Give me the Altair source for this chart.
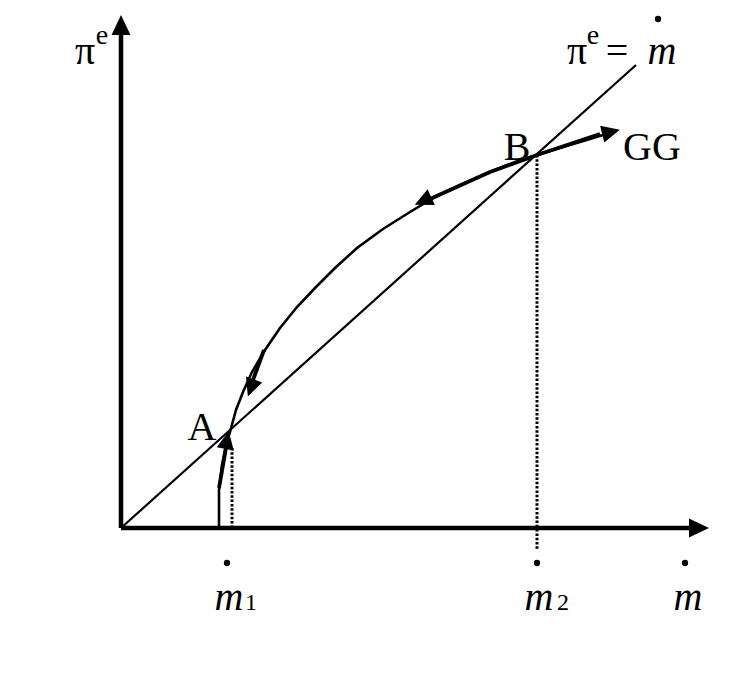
import altair as alt
import pandas as pd

# Coordinates: m on x, pi^e on y (diagram units, origin at axes intersection)
gg_x = [98, 98, 101, 105, 109, 115, 122, 131, 144, 159, 176, 194, 214, 236, 262, 289, 314, 339, 369, 394, 416, 439, 469, 485]
gg_y = [0, 38, 63, 83, 96, 118, 136, 156, 178, 200, 221, 240, 260, 280, 299, 316, 331, 343, 356, 366, 373, 380, 389, 394]

# thick shafts along GG (segment id, x, y)
shaft_id = [0, 0, 1, 1, 2, 2, 2, 2]
shaft_x = [98, 105, 143, 132, 309, 369, 416, 479]
shaft_y = [40, 80, 178, 148, 329, 356, 373, 394]

diag_x = [0, 515]
diag_y = [0, 463]

axis_id = [0, 0, 1, 1]
axis_x = [0, 0, 0, 570]
axis_y = [0, 494, 0, 0]

dot_id = [0, 0, 1, 1]
dot_x = [111, 111, 416, 416]
dot_y = [80, 0, 373, -22]

# arrow heads: center x, y, direction (deg clockwise from up), size
arr_x = [0, 578, 106, 130, 302, 490]
arr_y = [503, 0, 88, 140, 327, 396]
arr_ang = [0, 90, 11, 200, 245, 76]
arr_size = [400, 400, 330, 330, 330, 330]

pt_x = [106, 416, 564, 537]
pt_y = [-35, -35, -35, 509]

lab_up_x = [-36, 456, 496, 81, 396]
lab_up_y = [464, 464, 464, 88, 368]
lab_up_t = ["π", "π", "=", "A", "B"]

lab_gg_x = [502]
lab_gg_y = [368]
lab_gg_t = ["GG"]

sup_x = [-19, 472]
sup_y = [484, 484]
sup_t = ["e", "e"]

it_x = [541, 108, 418, 567]
it_y = [464, -82, -82, -82]
it_t = ["m", "m", "m", "m"]

sub_x = [130, 442]
sub_y = [-82, -82]
sub_t = ["1", "2"]

X = alt.Scale(domain=[-113, 606], nice=False, zero=False)
Y = alt.Scale(domain=[-144, 520], nice=False, zero=False)
FONT = "Liberation Serif"


def xe(c="x"):
    return alt.X(f"{c}:Q", scale=X, axis=None)


def ye(c="y"):
    return alt.Y(f"{c}:Q", scale=Y, axis=None)


gg = pd.DataFrame({"x": gg_x, "y": gg_y, "o": range(len(gg_x))})
shaft = pd.DataFrame({"id": shaft_id, "x": shaft_x, "y": shaft_y, "o": range(len(shaft_x))})
diag = pd.DataFrame({"x": diag_x, "y": diag_y})
axes = pd.DataFrame({"id": axis_id, "x": axis_x, "y": axis_y, "o": range(4)})
dots = pd.DataFrame({"id": dot_id, "x": dot_x, "y": dot_y, "o": range(4)})
arr = pd.DataFrame({"x": arr_x, "y": arr_y, "a": arr_ang, "s": arr_size})
pts = pd.DataFrame({"x": pt_x, "y": pt_y})

gg_line = alt.Chart(gg).mark_line(color="black", strokeWidth=2.6).encode(x=xe(), y=ye(), order="o:Q")
shaft_line = alt.Chart(shaft).mark_line(color="black", strokeWidth=3.8).encode(
    x=xe(), y=ye(), detail="id:N", order="o:Q")
diag_line = alt.Chart(diag).mark_line(color="black", strokeWidth=2.2).encode(x=xe(), y=ye())
axis_line = alt.Chart(axes).mark_line(color="black", strokeWidth=4.5).encode(
    x=xe(), y=ye(), detail="id:N", order="o:Q")
dot_line = alt.Chart(dots).mark_line(color="black", strokeWidth=3, strokeDash=[2.5, 1.8]).encode(
    x=xe(), y=ye(), detail="id:N", order="o:Q")
heads = alt.Chart(arr).mark_point(
    shape="M0,-1L0.95,1L-0.95,1Z", filled=True, color="black", opacity=1, strokeWidth=0
).encode(x=xe(), y=ye(), angle=alt.Angle("a:Q", scale=None), size=alt.Size("s:Q", scale=None))
points = alt.Chart(pts).mark_circle(color="black", size=40, opacity=1).encode(x=xe(), y=ye())


def txt(xs, ys, ts, size, style="normal", align="center"):
    d = pd.DataFrame({"x": xs, "y": ys, "t": ts})
    return alt.Chart(d).mark_text(
        font=FONT, fontSize=size, fontStyle=style, align=align, baseline="alphabetic", color="black"
    ).encode(x=xe(), y=ye(), text="t:N")


layers = [
    diag_line, dot_line, gg_line, shaft_line, axis_line, heads, points,
    txt(lab_up_x, lab_up_y, lab_up_t, 40),
    txt(lab_gg_x, lab_gg_y, lab_gg_t, 40, align="left"),
    txt(sup_x, sup_y, sup_t, 28),
    txt(it_x, it_y, it_t, 40, style="italic"),
    txt(sub_x, sub_y, sub_t, 24),
]

chart = alt.layer(*layers).properties(
    width=719, height=664, autosize=alt.AutoSizeParams(type="none"), padding=0
).configure_view(stroke=None)

chart.save("out.html", embed_options={"renderer": "svg", "actions": False})
